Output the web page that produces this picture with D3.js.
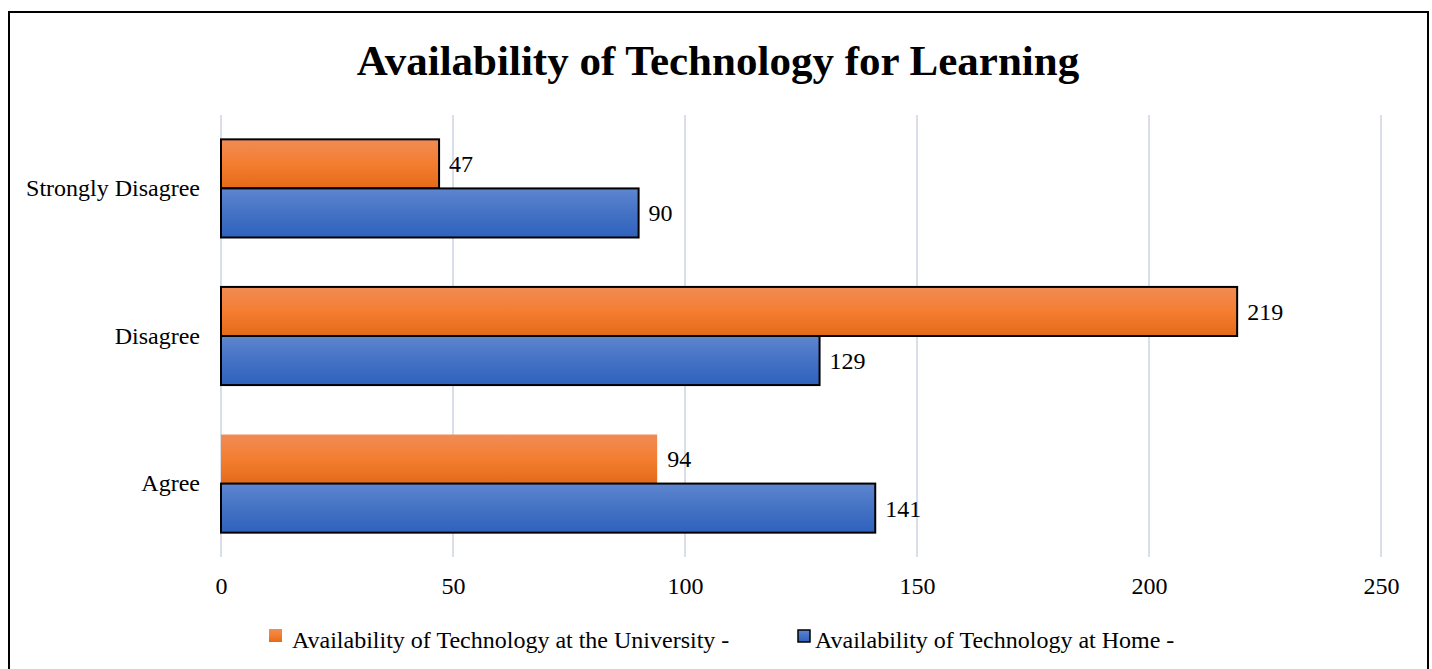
<!DOCTYPE html>
<html>
<head>
<meta charset="utf-8">
<title>Availability of Technology for Learning</title>
<script src="https://d3js.org/d3.v7.min.js"></script>
<style>
    body { margin: 0; background: #fff; }
    #chart { position: relative; }
    text { font-family: "Liberation Serif", "Times New Roman", serif; fill: #000; }
</style>
</head>
<body>
<div id="chart"></div>
<script>
    // chart data
    var categories = ["Strongly Disagree", "Disagree", "Agree"];
    var seriesNames = ["Availability of Technology at the University -", "Availability of Technology at Home -"];
    var universityValues = [47, 219, 94];
    var homeValues = [90, 129, 141];
    var xTicks = [0, 50, 100, 150, 200, 250];

    var width = 1432, height = 669;
    var margin = { top: 115, right: 51, bottom: 112, left: 221 };
    var innerW = width - margin.left - margin.right;
    var innerH = height - margin.top - margin.bottom;

    var svg = d3.select("#chart").append("svg")
        .attr("width", width)
        .attr("height", height);

    // gradients for the bars
    var defs = svg.append("defs");
    function addGrad(id, stops) {
        var g = defs.append("linearGradient").attr("id", id)
            .attr("x1", 0).attr("y1", 0).attr("x2", 0).attr("y2", 1);
        stops.forEach(function (s) {
            g.append("stop").attr("offset", s[0]).attr("stop-color", s[1]);
        });
    }
    addGrad("gradOrange", [[0, "#F08C55"], [0.5, "#F47D30"], [1, "#E36A18"]]);
    addGrad("gradBlue", [[0, "#5E86D0"], [0.5, "#4472C4"], [1, "#2F62BE"]]);

    // outer frame
    svg.append("rect")
        .attr("x", 9).attr("y", 12)
        .attr("width", 1419).attr("height", 670)
        .attr("fill", "none")
        .attr("stroke", "#000")
        .attr("stroke-width", 2);

    // title
    svg.append("text")
        .attr("x", 718).attr("y", 75)
        .attr("text-anchor", "middle")
        .style("font-size", "43px")
        .style("font-weight", "bold")
        .text("Availability of Technology for Learning");

    var g = svg.append("g")
        .attr("transform", "translate(" + margin.left + "," + margin.top + ")");

    var x = d3.scaleLinear().domain([0, 250]).range([0, innerW]);
    var y = d3.scaleBand().domain(categories).range([0, innerH]).paddingInner(0.335).paddingOuter(0.165);
    var ySub = d3.scaleBand().domain([0, 1]).range([0, y.bandwidth()]);

    // gridlines
    g.selectAll(".grid").data(xTicks).enter().append("line")
        .attr("x1", function (d) { return x(d); })
        .attr("x2", function (d) { return x(d); })
        .attr("y1", 0).attr("y2", innerH)
        .attr("stroke", "#D9DEE8")
        .attr("stroke-width", 2);

    // x axis labels
    var xAxis = g.append("g")
        .attr("transform", "translate(0," + innerH + ")")
        .call(d3.axisBottom(x).tickValues(xTicks).tickSize(0).tickPadding(20));
    xAxis.select(".domain").remove();
    xAxis.selectAll("text")
        .style("font-family", "'Liberation Serif', 'Times New Roman', serif")
        .style("font-size", "24px");

    // y axis labels
    var yAxis = g.append("g")
        .call(d3.axisLeft(y).tickSize(0).tickPadding(21));
    yAxis.select(".domain").remove();
    yAxis.selectAll("text")
        .style("font-family", "'Liberation Serif', 'Times New Roman', serif")
        .style("font-size", "24px");

    var series = [
        { name: seriesNames[0], values: universityValues, fill: "url(#gradOrange)" },
        { name: seriesNames[1], values: homeValues, fill: "url(#gradBlue)" }
    ];

    series.forEach(function (s, si) {
        var rows = categories.map(function (c, i) { return { cat: c, v: s.values[i] }; });
        g.selectAll(".bar" + si).data(rows).enter().append("rect")
            .attr("x", x(0))
            .attr("y", function (d) { return y(d.cat) + ySub(si); })
            .attr("width", function (d) { return x(d.v) - x(0); })
            .attr("height", ySub.bandwidth())
            .attr("fill", s.fill)
            // the orange Agree bar has no outline in the original
            .attr("stroke", function (d) { return (si === 0 && d.cat === "Agree") ? "none" : "#000"; })
            .attr("stroke-width", 2);

        g.selectAll(".lbl" + si).data(rows).enter().append("text")
            .attr("x", function (d) { return x(d.v) + 10; })
            .attr("y", function (d) { return y(d.cat) + ySub(si) + ySub.bandwidth() / 2; })
            .attr("dy", "0.35em")
            .style("font-size", "24px")
            .text(function (d) { return d.v; });
    });

    // legend
    var legend = svg.append("g");
    legend.append("rect")
        .attr("x", 269).attr("y", 629).attr("width", 13).attr("height", 13)
        .attr("fill", "url(#gradOrange)");
    legend.append("text")
        .attr("x", 292).attr("y", 648)
        .style("font-size", "24px")
        .text(seriesNames[0]);
    legend.append("rect")
        .attr("x", 798).attr("y", 630).attr("width", 12).attr("height", 12)
        .attr("fill", "url(#gradBlue)")
        .attr("stroke", "#000").attr("stroke-width", 1.5);
    legend.append("text")
        .attr("x", 815).attr("y", 648)
        .style("font-size", "24px")
        .text(seriesNames[1]);
</script>
</body>
</html>
